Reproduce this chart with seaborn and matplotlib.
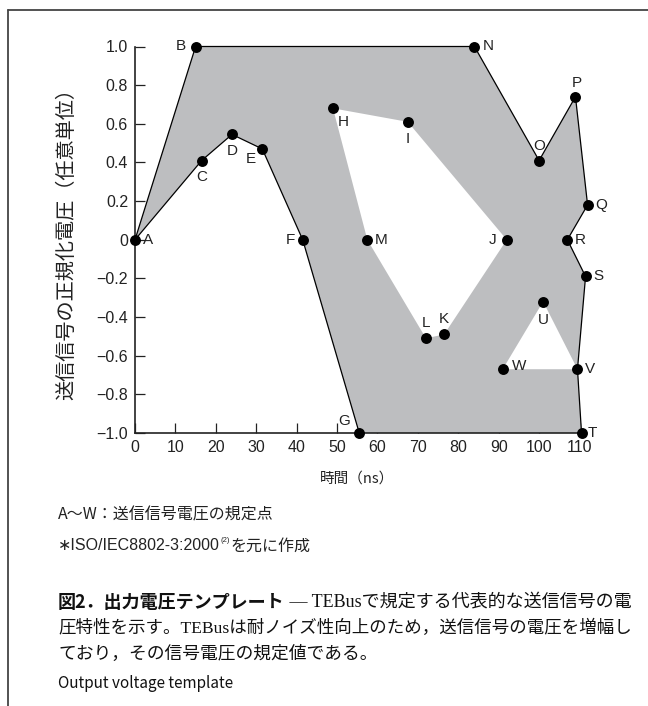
import matplotlib
matplotlib.use("Agg")
import matplotlib.pyplot as plt
from matplotlib.lines import Line2D
import seaborn as sns
import pandas as pd

# Specified points of the transmit-signal voltage template
point_names = ["A", "B", "C", "D", "E", "F", "G", "H", "I", "J", "K", "L",
               "M", "N", "O", "P", "Q", "R", "S", "T", "U", "V", "W"]
time_ns = [0, 15, 16.5, 24, 31.5, 41.5, 55.5, 49, 67.5, 92, 76.5, 72,
           57.5, 84, 100, 109, 112, 107, 111.5, 110.5, 101, 109.5, 91]
voltage = [0, 1.0, 0.41, 0.545, 0.47, 0, -1.0, 0.68, 0.61, 0, -0.49, -0.51,
           0, 1.0, 0.41, 0.74, 0.18, 0, -0.19, -1.0, -0.32, -0.67, -0.67]

# Polygon order of the allowed region and its two excluded islands
outer_ring = ["A", "B", "N", "O", "P", "Q", "R", "S", "V", "T", "G", "F", "E", "D", "C"]
inner_ring = ["H", "I", "J", "K", "L", "M"]
lower_ring = ["U", "V", "W"]
# Drawn outline (the G-T edge lies on the time axis)
outline = ["G", "F", "E", "D", "C", "A", "B", "N", "O", "P", "Q", "R", "S", "V", "T"]

x_ticks = [0, 10, 20, 30, 40, 50, 60, 70, 80, 90, 100, 110]
y_ticks = [1.0, 0.8, 0.6, 0.4, 0.2, 0, -0.2, -0.4, -0.6, -0.8, -1.0]
y_tick_labels = ["1.0", "0.8", "0.6", "0.4", "0.2", "0", "−0.2", "−0.4", "−0.6", "−0.8", "−1.0"]

x_label = "時間（ns）"
y_label = "送信信号の正規化電圧（任意単位）"
note_1 = "A〜W：送信信号電圧の規定点"
note_2a = "∗ISO/IEC8802-3:2000"
note_2b = "(2)"
note_2c = "を元に作成"
cap_bold = "図2．出力電圧テンプレート"
cap_1 = " — TEBusで規定する代表的な送信信号の電"
cap_2 = "圧特性を示す。TEBusは耐ノイズ性向上のため，送信信号の電圧を増幅し"
cap_3 = "ており，その信号電圧の規定値である。"
cap_en = "Output voltage template"

# label offsets in pixels (dx, dy) relative to each point
label_offset = {
    "A": (13, 0), "B": (-15, 0), "C": (0, -16), "D": (0, -17), "E": (-11, -10),
    "F": (-12, 0), "G": (-15, 12), "H": (10, -14), "I": (0, -17), "J": (-14, 0),
    "K": (0, 15), "L": (0, 15), "M": (14, 0), "N": (14, 0), "O": (0, 15),
    "P": (1, 14), "Q": (14, 0), "R": (13, 0), "S": (13, 0), "T": (11, 0),
    "U": (0, -18), "V": (13, 0), "W": (16, 3),
}

df = pd.DataFrame({"name": point_names, "t": time_ns, "v": voltage}).set_index("name")

sns.set_theme(style="ticks")
LATIN = "Liberation Sans"
CJK = "Noto Sans CJK JP"
SYM = "DejaVu Sans"
plt.rcParams["font.family"] = [LATIN, CJK, SYM]
plt.rcParams["axes.unicode_minus"] = True

W, H = 648, 706
fig = plt.figure(figsize=(W / 100, H / 100), dpi=100)
fig.patch.set_facecolor("white")

def fx(px):
    return px / W

def fy(py):
    return 1 - py / H

ax = fig.add_axes([fx(135), fy(433), fx(579.5) - fx(135), fy(46.5) - fy(433)])
ax.set_facecolor("white")

fill_grey = "#bdbec0"
for ring, colour, z in ((outer_ring, fill_grey, 1), (inner_ring, "white", 1.1),
                        (lower_ring, "white", 1.1)):
    patches = ax.fill(df.loc[ring, "t"], df.loc[ring, "v"], color=colour, lw=0, zorder=z)
    for p in patches:
        p.set_clip_on(False)

line_df = df.loc[outline].reset_index()
sns.lineplot(data=line_df, x="t", y="v", sort=False, estimator=None, color="black",
             lw=0.9, ax=ax, zorder=3, clip_on=False)

pts = df.reset_index()
sns.scatterplot(data=pts, x="t", y="v", color="black", s=62, linewidth=0,
                ax=ax, zorder=5, clip_on=False)

for name in point_names:
    dx, dy = label_offset[name]
    ax.annotate(name, (df.loc[name, "t"], df.loc[name, "v"]), xytext=(dx, dy),
                textcoords="offset pixels", ha="center", va="center",
                fontsize=11, color="#222222", zorder=6, annotation_clip=False)

ax.set_xlim(0, 110)
ax.set_ylim(-1, 1)
ax.set_xticks(x_ticks)
ax.set_xticklabels([str(v) for v in x_ticks])
ax.set_yticks(y_ticks)
ax.set_yticklabels(y_tick_labels)
ax.tick_params(direction="in", length=7, width=0.9, labelsize=11.5, colors="#222222", pad=5)
for side in ("top", "right"):
    ax.spines[side].set_visible(False)
for side in ("left", "bottom"):
    ax.spines[side].set_linewidth(1.2)
    ax.spines[side].set_color("#222222")
ax.set_xlabel("")
ax.set_ylabel("")

fig.text(fx(357), fy(479), x_label, ha="center", va="center", fontsize=10.5,
         family=[CJK], color="#222222")
fig.text(fx(67), fy(239), y_label, ha="center", va="center", rotation=90,
         fontsize=14.5, family=[CJK], color="#222222")

# frame lines around the figure block
fig.add_artist(Line2D([fx(8), 1], [fy(10), fy(10)], transform=fig.transFigure,
                      color="#444444", lw=1.3))
fig.add_artist(Line2D([fx(8), fx(8)], [fy(10), 0], transform=fig.transFigure,
                      color="#444444", lw=1.3))

fig.canvas.draw()
renderer = fig.canvas.get_renderer()

def right_edge(t):
    return t.get_window_extent(renderer).x1 / W

# notes under the chart
fig.text(fx(58), fy(515), note_1, ha="left", va="center", fontsize=11.5,
         family=[CJK], color="#222222")
t_a = fig.text(fx(58), fy(546), note_2a, ha="left", va="center", fontsize=11.5,
               family=[LATIN, SYM, CJK], color="#222222")
t_b = fig.text(right_edge(t_a) + 0.001, fy(540), note_2b, ha="left", va="center",
               fontsize=5.5, family=[LATIN], color="#222222")
fig.text(right_edge(t_b) + 0.001, fy(546), note_2c, ha="left", va="center",
         fontsize=11.5, family=[CJK], color="#222222")

# figure caption
cap_x = fx(58)
serif = ["Liberation Serif", CJK]
t_bold = fig.text(cap_x, fy(602), cap_bold, ha="left", va="center", fontsize=13,
                  family=[CJK], weight="bold", color="#111111")
fig.text(right_edge(t_bold), fy(602), cap_1, ha="left", va="center", fontsize=13,
         family=serif, color="#111111")
fig.text(cap_x, fy(628), cap_2, ha="left", va="center", fontsize=12.6,
         family=serif, color="#111111")
fig.text(cap_x, fy(654), cap_3, ha="left", va="center", fontsize=12.8,
         family=serif, color="#111111")
fig.text(cap_x, fy(684), cap_en, ha="left", va="center", fontsize=11,
         family=[CJK], color="#111111")

fig.savefig("out.png", dpi=100, facecolor="white")
